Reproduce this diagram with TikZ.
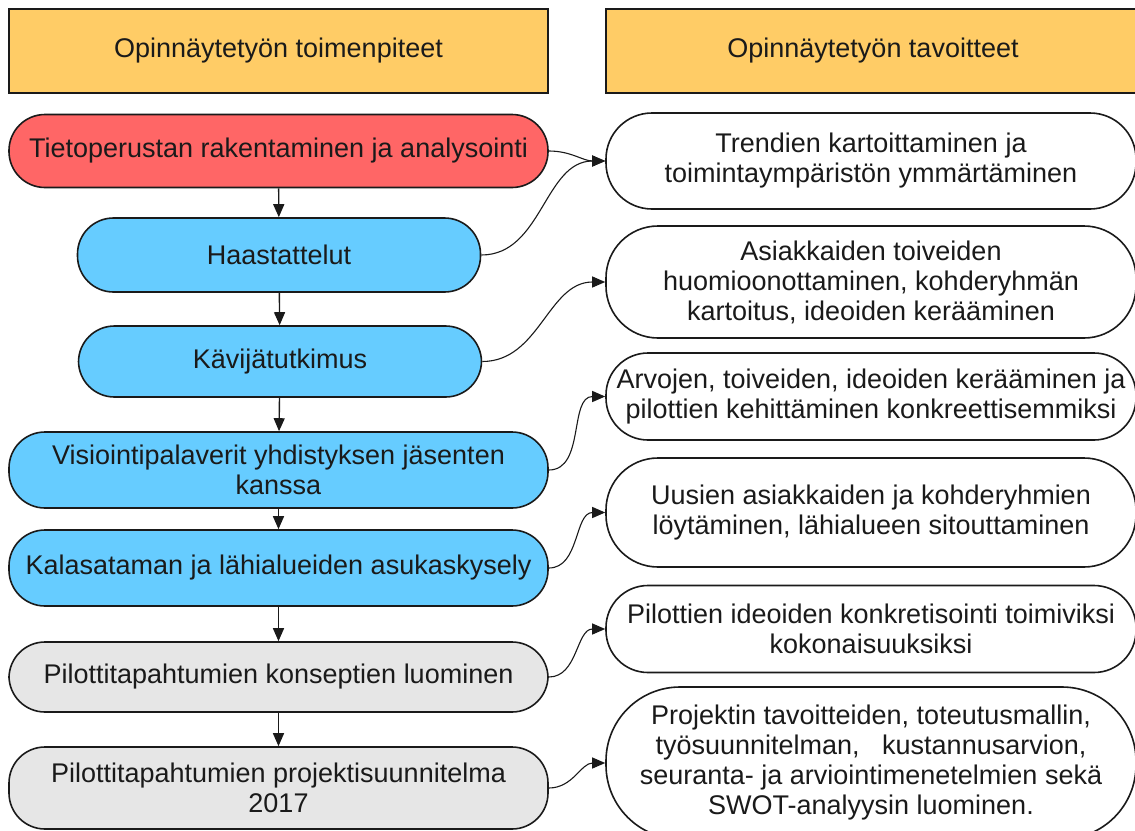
\documentclass[tikz,border=0pt]{standalone}
\usepackage{fontspec}
\setmainfont{Liberation Sans}
\usetikzlibrary{arrows.meta}
\definecolor{hdrc}{HTML}{FFCC66}
\definecolor{redc}{HTML}{FF6666}
\definecolor{bluec}{HTML}{66CCFF}
\definecolor{grayc}{HTML}{E6E6E6}
\definecolor{linec}{HTML}{1A1A1A}
\begin{document}
\begin{tikzpicture}[x=1pt,y=-1pt,
  box/.style={draw=linec, line width=1.6pt, align=center, inner sep=0pt,
    font=\fontsize{27}{30}\selectfont, text=linec},
  hdr/.style={box, fill=hdrc},
  lwide/.style={box, minimum width=539pt, rounded corners=36pt},
  lnarrow/.style={box, minimum width=403pt, rounded corners=36pt},
  rbox/.style={box, fill=white, minimum width=530pt},
  vflow/.style={draw=linec, line width=1.4pt, -{Triangle[length=13pt,width=11pt]}},
  cflow/.style={draw=linec, line width=1.1pt, -{Triangle[length=13pt,width=11pt]}}
]
\useasboundingbox (0,0) rectangle (1135,830);
\clip (0,0) rectangle (1135,830);

% headers
\node[hdr, minimum width=539pt, minimum height=84pt] (h1) at (278.5,51) {Opinnäytetyön toimenpiteet};
\node[hdr, minimum width=534pt, minimum height=84pt] (h2) at (873,51) {Opinnäytetyön tavoitteet};

% left column
\node[lwide, fill=redc, minimum height=73pt] (l1) at (278.5,151) {Tietoperustan rakentaminen ja analysointi};
\node[lnarrow, fill=bluec, minimum height=74pt] (l2) at (279,255) {Haastattelut};
\node[lnarrow, fill=bluec, minimum height=71pt] (l3) at (280,361.5) {Kävijätutkimus};
\node[lwide, fill=bluec, minimum height=76pt] (l4) at (278.5,470) {Visiointipalaverit yhdistyksen jäsenten\\kanssa};
\node[lwide, fill=bluec, minimum height=76pt] (l5) at (278.5,568) {Kalasataman ja lähialueiden asukaskysely};
\node[lwide, fill=grayc, minimum height=70pt] (l6) at (278.5,677) {Pilottitapahtumien konseptien luominen};
\node[lwide, fill=grayc, minimum height=82pt] (l7) at (278.5,788) {Pilottitapahtumien projektisuunnitelma\\2017};

% right column
\node[rbox, minimum height=96pt, rounded corners=46pt] (r1) at (871,161) {Trendien kartoittaminen ja\\toimintaympäristön ymmärtäminen};
\node[rbox, minimum height=112pt, rounded corners=52pt] (r2) at (871,282) {Asiakkaiden toiveiden\\huomioonottaminen, kohderyhmän\\kartoitus, ideoiden kerääminen};
\node[rbox, minimum height=87pt, rounded corners=42pt] (r3) at (871,396.5) {Arvojen, toiveiden, ideoiden kerääminen ja\\pilottien kehittäminen konkreettisemmiksi};
\node[rbox, minimum height=109pt, rounded corners=52pt] (r4) at (871,512.5) {Uusien asiakkaiden ja kohderyhmien\\löytäminen, lähialueen sitouttaminen};
\node[rbox, minimum height=87pt, rounded corners=42pt] (r5) at (871,629) {Pilottien ideoiden konkretisointi toimiviksi\\kokonaisuuksiksi};
\node[rbox, minimum height=152pt, rounded corners=74pt] (r6) at (871,763) {Projektin tavoitteiden, toteutusmallin,\\työsuunnitelman,\ \ \ kustannusarvion,\\seuranta- ja arviointimenetelmien sekä\\SWOT-analyysin luominen.};

% vertical flow
\draw[vflow] (l1) -- (l2);
\draw[vflow] (l2) -- (l3);
\draw[vflow] (l3) -- (l4);
\draw[vflow] (l4) -- (l5);
\draw[vflow] (l5) -- (l6);
\draw[vflow] (l6) -- (l7);

% curved connectors
\draw[cflow] (l1.east) to[out=0,in=180] (r1.west);
\draw[cflow] (l2.east) to[out=0,in=180] (r1.west);
\draw[cflow] (l3.east) to[out=0,in=180] (r2.west);
\draw[cflow] (l4.east) to[out=0,in=180] (r3.west);
\draw[cflow] (l5.east) to[out=0,in=180] (r4.west);
\draw[cflow] (l6.east) to[out=0,in=180] (r5.west);
\draw[cflow] (l7.east) to[out=0,in=180] (r6.west);
\end{tikzpicture}
\end{document}
